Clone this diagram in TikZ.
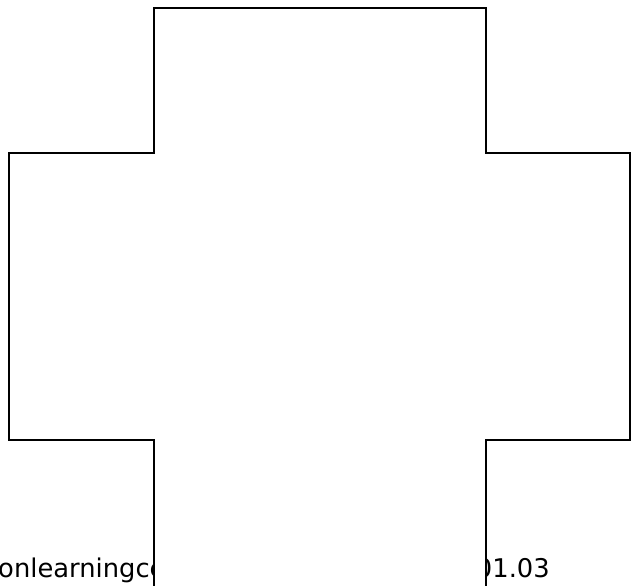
\documentclass[tikz,border=0pt]{standalone}
\usepackage{fontspec}
\setmainfont{DejaVu Sans}
\usetikzlibrary{positioning}
\tikzset{
    outline/.style={draw=black, line width=1.7pt, line join=miter},
    footer/.style={inner sep=0pt, font=\fontsize{22}{24}\selectfont}
}

\begin{document}
\begin{tikzpicture}[x=0.03cm, y=-0.03cm]
    \useasboundingbox (0,0) rectangle (635,586);
    % 底部文字(被十字形遮住一部分)
    \node[footer, anchor=base west] (srcleft) at (-2,577) {onlearningce};
    \node[footer, anchor=base east] (srcright) at (550,577) {01.03};

    % 十字形:先填白色遮住文字
    \fill[white] (154,8) -- (486,8) -- (486,153) -- (630,153) -- (630,440)
        -- (486,440) -- (486,590) -- (154,590) -- (154,440) -- (9,440)
        -- (9,153) -- (154,153) -- cycle;
    % 轮廓线,底部开口
    \draw[outline] (154,590) -- (154,440) -- (9,440) -- (9,153)
        -- (154,153) -- (154,8) -- (486,8) -- (486,153) -- (630,153)
        -- (630,440) -- (486,440) -- (486,590);
\end{tikzpicture}
\end{document}
